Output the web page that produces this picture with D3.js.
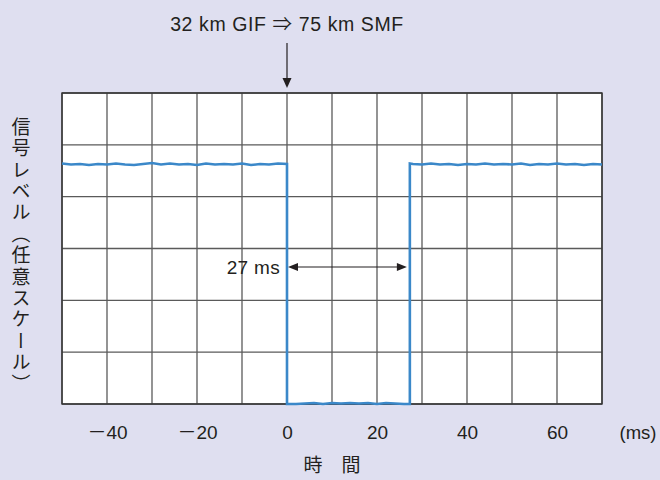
<!DOCTYPE html>
<html><head><meta charset="utf-8">
<script src="https://cdn.jsdelivr.net/npm/d3@7"></script>
<style>body{margin:0;background:#dfdff0;} svg{display:block;}</style>
</head><body>
<svg id="c" width="660" height="480"></svg>
<script>
// ---- data ----
const xTicks = [-40, -20, 0, 20, 40, 60];
const xTickLabels = ["－40", "－20", "0", "20", "40", "60"];
const titleText = "32 km GIF ⇒ 75 km SMF";
const xUnit = "(ms)";
const xLabel = "時　間";
const yLabel = "信号レベル（任意スケール）";
const gapText = "27 ms";
const switchTime = 0;      // ms
const recoverTime = 27.3;  // ms
// time samples (ms) and signal level (arbitrary units, 0..6 grid)
const timeHigh1 = [-50,-48,-46,-44,-42,-40,-38,-36,-34,-32,-30,-28,-26,-24,-22,-20,-18,-16,-14,-12,-10,-8,-6,-4,-2,0];
const levelHigh1 = [4.64,4.62,4.63,4.61,4.63,4.62,4.64,4.62,4.61,4.63,4.65,4.62,4.64,4.62,4.63,4.61,4.64,4.62,4.63,4.62,4.64,4.61,4.63,4.62,4.64,4.63];
const timeLow = [0,2,4,6,8,10,12,14,16,18,20,22,24,26,27.3];
const levelLow = [0,0,0.01,0.02,0,0.02,0.01,0.02,0.01,0.02,0,0.02,0.01,0,0];
const timeHigh2 = [27.3,28,30,32,34,36,38,40,42,44,46,48,50,52,54,56,58,60,62,64,66,68,70];
const levelHigh2 = [4.64,4.63,4.62,4.64,4.62,4.63,4.61,4.63,4.62,4.64,4.62,4.63,4.62,4.64,4.61,4.63,4.62,4.64,4.62,4.63,4.61,4.63,4.62];

// ---- layout ----
const svg = d3.select("#c");
const L = 62, R = 602, T = 93, B = 404;
const x = d3.scaleLinear().domain([-50, 70]).range([L, R]);
const y = d3.scaleLinear().domain([0, 6]).range([B, T]);
const font = "'Liberation Sans', Arial, 'Noto Sans CJK JP', sans-serif";
const cjk = "'Noto Sans CJK JP', sans-serif";
const ink = "#231f20";

svg.append("rect").attr("width", 660).attr("height", 480).attr("fill", "#dfdff0");
svg.append("rect").attr("x", L).attr("y", T).attr("width", R - L).attr("height", B - T).attr("fill", "#fff");

// grid
const g = svg.append("g");
g.selectAll("line.v").data(d3.range(-50, 71, 10)).join("line")
  .attr("x1", d => x(d)).attr("x2", d => x(d)).attr("y1", T).attr("y2", B)
  .attr("stroke", "#5a5a5a").attr("stroke-width", 1.3);
g.selectAll("line.h").data(d3.range(0, 7, 1)).join("line")
  .attr("y1", d => y(d)).attr("y2", d => y(d)).attr("x1", L).attr("x2", R)
  .attr("stroke", "#5a5a5a").attr("stroke-width", 1.3);
svg.append("rect").attr("x", L).attr("y", T).attr("width", R - L).attr("height", B - T)
  .attr("fill", "none").attr("stroke", "#333").attr("stroke-width", 1.4);

// signal
const pts = [];
timeHigh1.forEach((t, i) => pts.push([t, levelHigh1[i]]));
timeLow.forEach((t, i) => pts.push([t, levelLow[i]]));
timeHigh2.forEach((t, i) => pts.push([t, levelHigh2[i]]));
const line = d3.line().x(d => x(d[0])).y(d => y(d[1]));
svg.append("path").attr("d", line(pts)).attr("fill", "none")
  .attr("stroke", "#3b88c9").attr("stroke-width", 2.6).attr("stroke-linejoin", "miter");

// x axis labels
const axis = d3.axisBottom(x).tickValues(xTicks).tickFormat((d, i) => xTickLabels[i]).tickSize(0);
const ax = svg.append("g").attr("transform", `translate(0,${B})`).call(axis);
ax.select(".domain").remove();
ax.selectAll("text").attr("dy", 0).attr("y", 35).attr("font-size", 19).attr("font-family", font).attr("fill", ink);
svg.append("text").attr("x", 638).attr("y", B + 35).attr("text-anchor", "middle")
  .attr("font-size", 18.5).attr("font-family", font).attr("fill", ink).text(xUnit);
svg.append("text").attr("x", 332).attr("y", 472).attr("text-anchor", "middle")
  .attr("font-size", 19).attr("font-family", cjk).attr("fill", ink).text(xLabel);

// y label (vertical)
svg.append("text").attr("x", 21).attr("y", 117)
  .attr("writing-mode", "vertical-rl").attr("font-size", 19).attr("letter-spacing", 2.4)
  .attr("font-family", cjk).attr("fill", ink).text(yLabel);

// title and arrow
svg.append("text").attr("x", x(switchTime)).attr("y", 31).attr("text-anchor", "middle")
  .attr("font-size", 19.5).attr("letter-spacing", 0.6).attr("font-family", font).attr("fill", ink).text(titleText);
svg.append("line").attr("x1", x(switchTime)).attr("x2", x(switchTime)).attr("y1", 43).attr("y2", 80)
  .attr("stroke", ink).attr("stroke-width", 1.2);
svg.append("path").attr("d", `M${x(switchTime) - 4.5},78 L${x(switchTime) + 4.5},78 L${x(switchTime)},88 Z`).attr("fill", ink);

// 27 ms double arrow
const ay = 267;
const x0 = x(switchTime) + 1, x1 = x(recoverTime) - 3;
svg.append("line").attr("x1", x0 + 8).attr("x2", x1 - 8).attr("y1", ay).attr("y2", ay)
  .attr("stroke", ink).attr("stroke-width", 1.2);
svg.append("path").attr("d", `M${x0},${ay} L${x0 + 10},${ay - 4} L${x0 + 10},${ay + 4} Z`).attr("fill", ink);
svg.append("path").attr("d", `M${x1},${ay} L${x1 - 10},${ay - 4} L${x1 - 10},${ay + 4} Z`).attr("fill", ink);
svg.append("text").attr("x", 280).attr("y", 274).attr("text-anchor", "end")
  .attr("font-size", 19).attr("letter-spacing", 0.3).attr("font-family", font).attr("fill", ink).text(gapText);
</script>
</body></html>
